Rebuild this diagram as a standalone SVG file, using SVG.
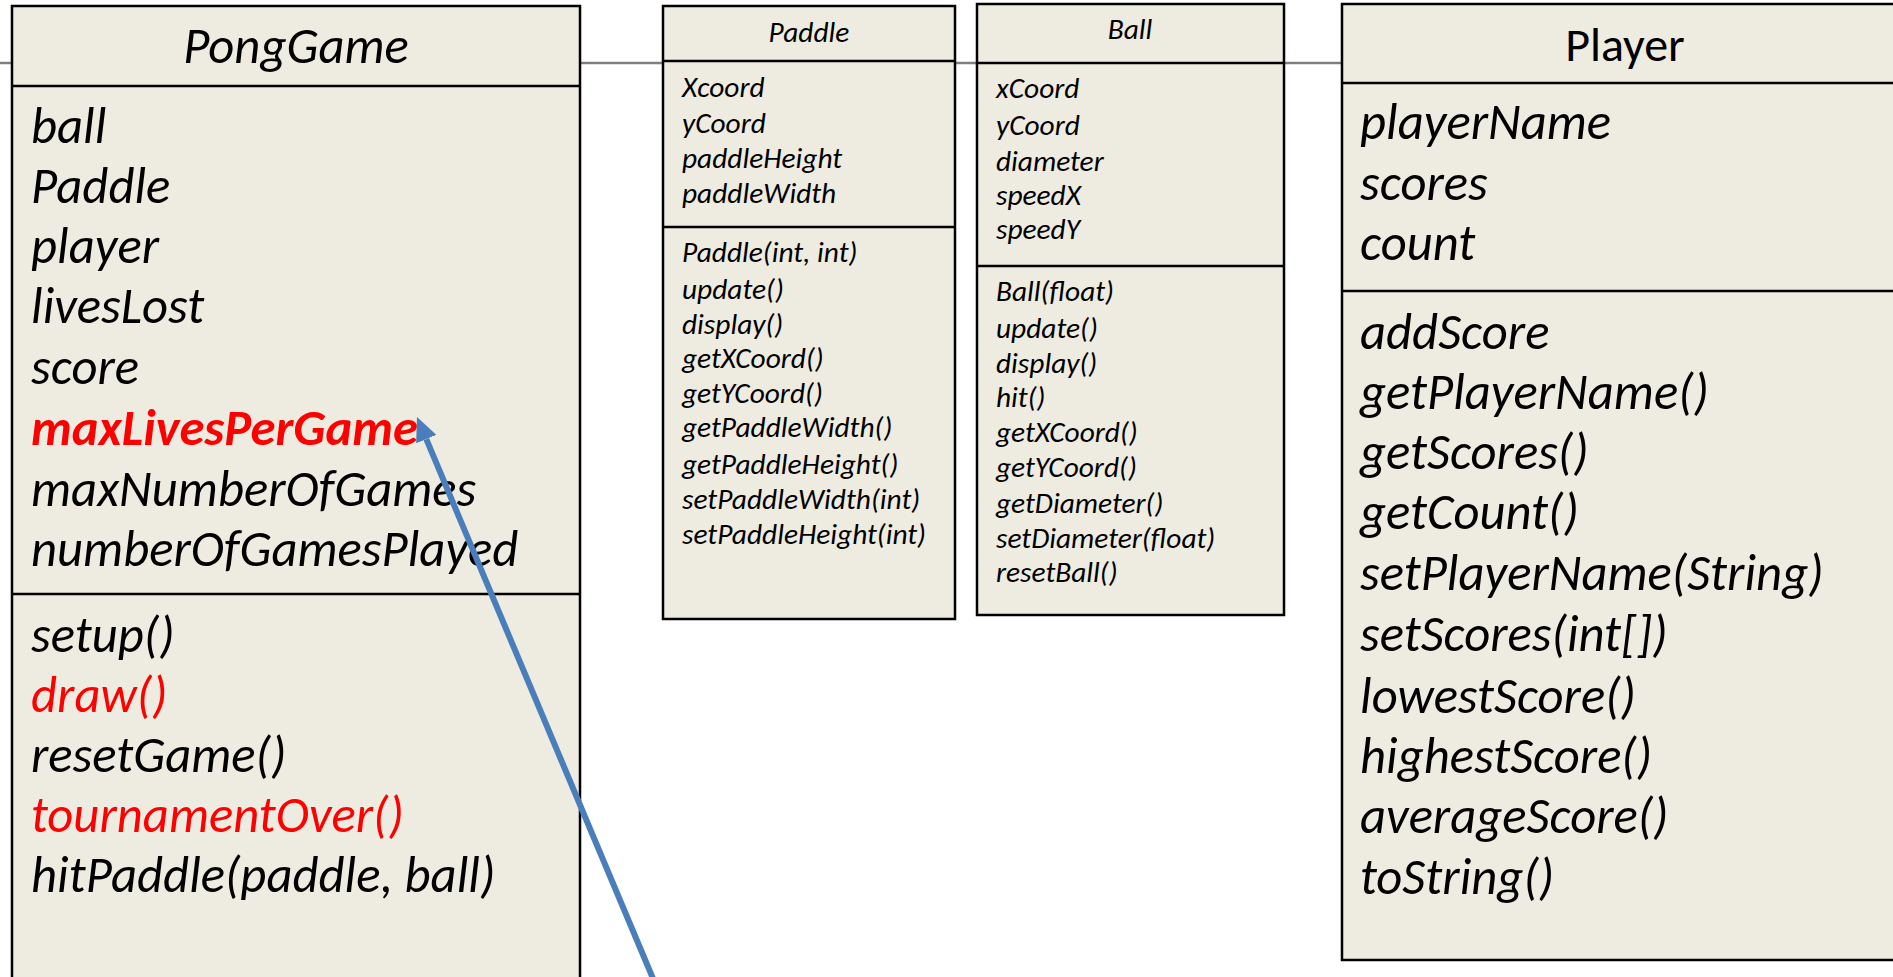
<svg xmlns="http://www.w3.org/2000/svg" width="1893" height="977" viewBox="0 0 1893 977">
  <style>
    .box { fill: #EEECE1; stroke: #000; stroke-width: 2.5; }
    .sep { stroke: #000; stroke-width: 2.5; fill: none; }
    .guide { stroke: #7F7F7F; stroke-width: 2.5; fill: none; }
    .t { font-family: Carlito, Calibri, Lato, "Liberation Sans", sans-serif; fill: #000; font-style: italic; }
    .big { font-size: 50.7px; }
    .small { font-size: 29.4px; }
    .title { text-anchor: middle; }
    .plain { font-style: normal; }
    .red { fill: #FF0000; }
    .bold { font-weight: bold; }
    .link { stroke: #4A7EBB; stroke-width: 6; fill: none; }
  </style>
  <defs>
    <marker id="head" markerUnits="userSpaceOnUse" markerWidth="24" markerHeight="22" viewBox="0 0 24 22" refX="0" refY="11" orient="auto">
      <path d="M0,0 L24,11 L0,22 Z" fill="#4A7EBB"/>
    </marker>
  </defs>

  <rect width="1893" height="977" fill="#FFFFFF"/>

  <!-- thin horizontal rule running behind the class boxes -->
  <line class="guide" x1="0" y1="63" x2="1345" y2="63"/>

  <g id="PongGame">
    <rect class="box" x="12" y="6" width="568" height="1000"/>
    <line class="sep" x1="12" y1="86" x2="580" y2="86"/>
    <line class="sep" x1="12" y1="594" x2="580" y2="594"/>
    <text class="t big title" x="296" y="63">PongGame</text>
    <text class="t big" x="31" y="143">ball</text>
    <text class="t big" x="31" y="203">Paddle</text>
    <text class="t big" x="31" y="263">player</text>
    <text class="t big" x="31" y="323">livesLost</text>
    <text class="t big" x="31" y="384">score</text>
    <text class="t big red bold" x="31" y="445">maxLivesPerGame</text>
    <text class="t big" x="31" y="506">maxNumberOfGames</text>
    <text class="t big" x="31" y="566">numberOfGamesPlayed</text>
    <text class="t big" x="31" y="652">setup()</text>
    <text class="t big red" x="31" y="712">draw()</text>
    <text class="t big" x="31" y="772">resetGame()</text>
    <text class="t big red" x="31" y="832">tournamentOver()</text>
    <text class="t big" x="31" y="892">hitPaddle(paddle, ball)</text>
  </g>

  <g id="Paddle">
    <rect class="box" x="663" y="6" width="292" height="613"/>
    <line class="sep" x1="663" y1="61" x2="955" y2="61"/>
    <line class="sep" x1="663" y1="227" x2="955" y2="227"/>
    <text class="t small title" x="809" y="42">Paddle</text>
    <text class="t small" x="682" y="97">Xcoord</text>
    <text class="t small" x="682" y="133">yCoord</text>
    <text class="t small" x="682" y="168">paddleHeight</text>
    <text class="t small" x="682" y="203">paddleWidth</text>
    <text class="t small" x="682" y="262">Paddle(int, int)</text>
    <text class="t small" x="682" y="299">update()</text>
    <text class="t small" x="682" y="334">display()</text>
    <text class="t small" x="682" y="368">getXCoord()</text>
    <text class="t small" x="682" y="403">getYCoord()</text>
    <text class="t small" x="682" y="437">getPaddleWidth()</text>
    <text class="t small" x="682" y="474">getPaddleHeight()</text>
    <text class="t small" x="682" y="509">setPaddleWidth(int)</text>
    <text class="t small" x="682" y="544">setPaddleHeight(int)</text>
  </g>

  <g id="Ball">
    <rect class="box" x="977" y="4" width="307" height="611"/>
    <line class="sep" x1="977" y1="63" x2="1284" y2="63"/>
    <line class="sep" x1="977" y1="266" x2="1284" y2="266"/>
    <text class="t small title" x="1130" y="39">Ball</text>
    <text class="t small" x="996" y="98">xCoord</text>
    <text class="t small" x="996" y="135">yCoord</text>
    <text class="t small" x="996" y="171">diameter</text>
    <text class="t small" x="996" y="205">speedX</text>
    <text class="t small" x="996" y="239">speedY</text>
    <text class="t small" x="996" y="301">Ball(float)</text>
    <text class="t small" x="996" y="338">update()</text>
    <text class="t small" x="996" y="373">display()</text>
    <text class="t small" x="996" y="407">hit()</text>
    <text class="t small" x="996" y="442">getXCoord()</text>
    <text class="t small" x="996" y="477">getYCoord()</text>
    <text class="t small" x="996" y="513">getDiameter()</text>
    <text class="t small" x="996" y="548">setDiameter(float)</text>
    <text class="t small" x="996" y="582">resetBall()</text>
  </g>

  <g id="Player">
    <rect class="box" x="1342" y="4" width="600" height="956"/>
    <line class="sep" x1="1342" y1="83" x2="1893" y2="83"/>
    <line class="sep" x1="1342" y1="291" x2="1893" y2="291"/>
    <text class="t big title plain" x="1625" y="61" style="font-size:48px">Player</text>
    <text class="t big" x="1360" y="139">playerName</text>
    <text class="t big" x="1360" y="200">scores</text>
    <text class="t big" x="1360" y="260">count</text>
    <text class="t big" x="1360" y="349">addScore</text>
    <text class="t big" x="1360" y="409">getPlayerName()</text>
    <text class="t big" x="1360" y="469">getScores()</text>
    <text class="t big" x="1360" y="529">getCount()</text>
    <text class="t big" x="1360" y="590">setPlayerName(String)</text>
    <text class="t big" x="1360" y="651">setScores(int[])</text>
    <text class="t big" x="1360" y="713">lowestScore()</text>
    <text class="t big" x="1360" y="773">highestScore()</text>
    <text class="t big" x="1360" y="833">averageScore()</text>
    <text class="t big" x="1360" y="894">toString()</text>
  </g>

  <g id="connectors">
    <line class="link" x1="662" y1="1000" x2="426.3" y2="439.1" marker-end="url(#head)"/>
  </g>
</svg>
